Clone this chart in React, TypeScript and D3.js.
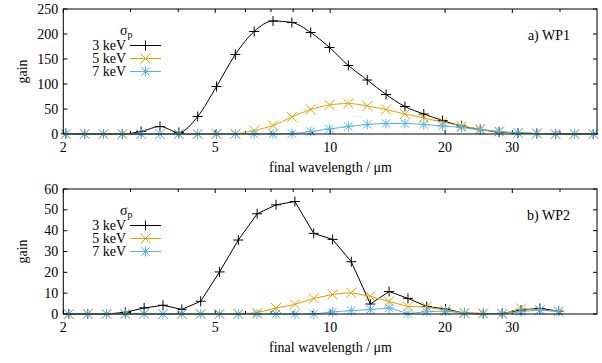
import React from "react";
import * as d3 from "d3";

// wavelengths (µm) of the sample points
const wlTop = [2.03, 2.275, 2.548, 2.855, 3.198, 3.583, 4.014, 4.498, 5.039, 5.645, 6.324, 7.086, 7.938, 8.894, 9.963, 11.16, 12.51, 14.01, 15.7, 17.59, 19.7, 22.08, 24.73, 27.71, 31.04, 34.78, 38.96, 43.65, 48.9];
const wlBottom = [2.067, 2.317, 2.595, 2.907, 3.257, 3.649, 4.088, 4.58, 5.131, 5.748, 6.44, 7.216, 8.083, 9.057, 10.15, 11.36, 12.74, 14.27, 15.99, 17.91, 20.06, 22.48, 25.18, 28.22, 31.61, 35.42, 39.67];

// WP1 gains
const wp1_3keV = [1, 0, 0, 0, 5, 15, 3, 35, 95, 159, 205, 226, 223, 203, 173, 137, 108, 79, 55, 40, 27, 16, 9, 4, 2, 1, 0, 0, 0];
const wp1_5keV = [0, 0, 0, 0, 0, 0, 0, 0, 0, 0.5, 7, 17, 34, 49, 58, 61, 56, 49, 40, 32, 24, 16, 10, 5, 2, 1, 0, 0, 0];
const wp1_7keV = [0, 0, 0, 0, 0, 0, 0, 0, 0, 0, 0, 0, 1, 5, 10, 15, 19, 21, 21, 19, 16, 13, 8, 5, 2, 1, 0, 0, 0];

// WP2 gains
const wp2_3keV = [0, 0, 0, 0.8, 2.9, 4.2, 2.2, 6.1, 20.2, 35.5, 48.1, 52.4, 54.0, 38.7, 35.8, 25.1, 4.8, 10.8, 7.5, 3.6, 2.4, 0.4, 0.2, 0.3, 1.9, 2.7, 1.4];
const wp2_5keV = [0, 0, 0, 0, 0, 0, 0, 0, 0, 0, 0.6, 2.9, 4.6, 7.5, 9.4, 10.2, 8.5, 6.0, 3.6, 3.4, 1.8, 0.5, 0.4, 0, 2.6, 1.9, 1.1];
const wp2_7keV = [0, 0, 0, 0, 0, 0, 0, 0, 0, 0, 0, 0, 0, 0, 1.0, 1.6, 2.1, 2.9, 0.2, 1.1, 1.4, 0.3, 0, 0.2, 1.1, 1.9, 1.4];

const seriesNames = ["3 keV", "5 keV", "7 keV"];
const seriesColors = ["#000000", "#E69F00", "#56B4E9"];
const seriesMarkers = ["plus", "cross", "star"];

const xMajorTicks = [2, 5, 10, 20, 30];
const xMinorTicks = [3, 4, 6, 7, 8, 9, 40];
const yTicksTop = [0, 50, 100, 150, 200, 250];
const yTicksBottom = [0, 10, 20, 30, 40, 50, 60];

const TXT: React.CSSProperties = { fontFamily: "'Liberation Serif', serif", fontSize: "14px" };
const W = 602;
const H = 363;
const left = 63.3;
const right = 597;

const markerPath = (type: string) => {
  const s = 5;
  const plus = `M${-s},0H${s}M0,${-s}V${s}`;
  const c = 4.2;
  const cross = `M${-c},${-c}L${c},${c}M${-c},${c}L${c},${-c}`;
  if (type === "plus") return plus;
  if (type === "cross") return `M${-s},${-s}L${s},${s}M${-s},${s}L${s},${-s}`;
  return plus + cross;
};

function Panel({ top, bottom, yMax, yTicks, wl, series, label, curve }: any) {
  const x = d3.scaleLog().domain([2, 50]).range([left, right]);
  const y = d3.scaleLinear().domain([0, yMax]).range([bottom, top]);
  const line = d3
    .line<number>()
    .x((_, i) => x(wl[i]))
    .y((d) => y(d))
    .curve(curve);
  return (
    <g>
      {/* y ticks */}
      {yTicks.map((t: number) => (
        <g key={"y" + t}>
          <line x1={left} x2={left + 4} y1={y(t)} y2={y(t)} stroke="#000" />
          <line x1={right} x2={right - 4} y1={y(t)} y2={y(t)} stroke="#000" />
          <text x={left - 5} y={y(t)} dy="0.33em" textAnchor="end" style={TXT}>
            {t}
          </text>
        </g>
      ))}
      {/* x ticks */}
      {xMajorTicks.map((t) => (
        <g key={"x" + t}>
          <line x1={x(t)} x2={x(t)} y1={top} y2={top + 4} stroke="#000" />
          <line x1={x(t)} x2={x(t)} y1={bottom} y2={bottom - 4} stroke="#000" />
          <text x={x(t)} y={bottom + 13} dy="0.33em" textAnchor="middle" style={TXT}>
            {t}
          </text>
        </g>
      ))}
      {xMinorTicks.map((t) => (
        <g key={"m" + t}>
          <line x1={x(t)} x2={x(t)} y1={top} y2={top + 3} stroke="#000" />
          <line x1={x(t)} x2={x(t)} y1={bottom} y2={bottom - 3} stroke="#000" />
        </g>
      ))}
      {/* series */}
      {series.map((vals: number[], si: number) => (
        <g key={"s" + si}>
          <path d={line(vals) || ""} fill="none" stroke={seriesColors[si]} strokeWidth={1} />
          {vals.map((v, i) => (
            <path
              key={i}
              d={markerPath(seriesMarkers[si])}
              transform={`translate(${x(wl[i])},${y(v)})`}
              fill="none"
              stroke={seriesColors[si]}
              strokeWidth={1}
            />
          ))}
        </g>
      ))}
      {/* frame */}
      <rect x={left} y={top} width={right - left} height={bottom - top} fill="none" stroke="#000" strokeWidth={1} />
      {/* legend */}
      <text x={120} y={top + 26} style={TXT}>
        σ<tspan style={{ fontSize: "10px" }} dy={3}>p</tspan>
      </text>
      {seriesNames.map((n, si) => {
        const ly = top + 36.5 + si * 13;
        return (
          <g key={"l" + si}>
            <text x={126} y={ly} dy="0.33em" textAnchor="end" style={TXT}>
              {n}
            </text>
            <line x1={130} x2={161} y1={ly} y2={ly} stroke={seriesColors[si]} />
            <path d={markerPath(seriesMarkers[si])} transform={`translate(145.5,${ly})`} fill="none" stroke={seriesColors[si]} />
          </g>
        );
      })}
      <text x={570} y={top + 26} dy="0.33em" textAnchor="end" style={TXT}>
        {label}
      </text>
      {/* axis titles */}
      <text x={330.5} y={bottom + 33} dy="0.33em" textAnchor="middle" style={TXT}>
        final wavelength / μm
      </text>
      <text transform={`translate(22,${(top + bottom) / 2}) rotate(-90)`} dy="0.33em" textAnchor="middle" style={TXT}>
        gain
      </text>
    </g>
  );
}

export default function App() {
  return (
    <svg width={W} height={H} style={{ position: "absolute", left: 0, top: 0, background: "#fff" }}>
      <rect width={W} height={H} fill="#fff" />
      <Panel
        top={9}
        bottom={134}
        yMax={250}
        yTicks={yTicksTop}
        wl={wlTop}
        series={[wp1_3keV, wp1_5keV, wp1_7keV]}
        label="a) WP1"
        curve={d3.curveMonotoneX}
      />
      <Panel
        top={189}
        bottom={314}
        yMax={60}
        yTicks={yTicksBottom}
        wl={wlBottom}
        series={[wp2_3keV, wp2_5keV, wp2_7keV]}
        label="b) WP2"
        curve={d3.curveLinear}
      />
    </svg>
  );
}
